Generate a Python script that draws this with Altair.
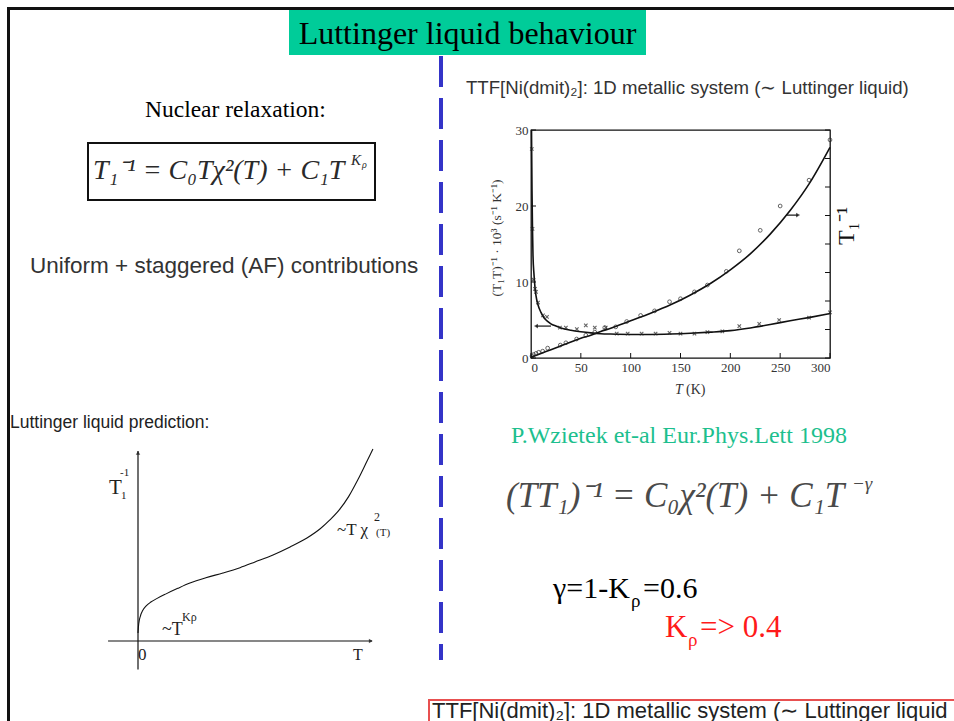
import altair as alt
import pandas as pd

SERIF = "Liberation Serif"
SANS = "Liberation Sans"

# plot-area placement (page pixels)
OX, OY = 531, 130
W, H = 299, 228

# ---------------- data ----------------
# T1^-1 (open circles, right-hand quantity)
rise_T = [1, 2.5, 5, 7.7, 11.7, 16.7, 29.4, 35, 45.8, 55, 64, 74, 85, 96, 110, 124,
          139, 150, 164, 177, 196, 209, 230, 250, 279, 300]
rise_v = [0.25, 0.45, 0.6, 0.75, 0.9, 1.3, 1.7, 2.0, 2.5, 3.0, 3.4, 4.0, 4.1, 4.8, 5.6, 6.2,
          7.4, 7.8, 8.7, 9.6, 11.4, 14.1, 16.8, 20.0, 23.4, 28.7]
# (T1 T)^-1 (crosses, left-hand quantity)
fall_T = [0.8, 1.5, 2.5, 4, 5, 7, 12, 16, 29, 35, 46, 55, 64, 75, 86, 97, 111, 125,
          139, 150, 164, 177, 192, 209, 229, 249, 279, 300]
fall_v = [27.5, 17, 10.3, 9.1, 8.7, 7.3, 5.6, 5.4, 4.0, 4.0, 3.8, 4.3, 4.0, 4.0, 3.2, 3.2, 3.2, 3.2,
          3.3, 3.2, 3.2, 3.4, 3.5, 4.2, 4.5, 5.0, 5.3, 6.0]
# fitted curves
fitR_T = [0, 10, 20, 30, 40, 50, 60, 70, 80, 90, 100, 120, 140, 160, 180, 200, 220, 240, 260, 280, 300]
fitR_v = [0.1, 0.6, 1.1, 1.6, 2.1, 2.6, 3.0, 3.5, 3.9, 4.4, 4.9, 5.9, 7.0, 8.3, 9.8, 11.6, 13.7, 16.3,
          19.4, 23.1, 27.7]
fitF_T = [0.5, 1, 1.5, 2, 3, 4, 5, 7, 10, 13, 17, 20, 25, 30, 40, 50, 60, 70, 80, 100, 120, 140,
          160, 180, 200, 220, 240, 260, 280, 300]
fitF_v = [30, 22, 17, 13.5, 11, 9.3, 8.2, 7.0, 6.0, 5.3, 4.8, 4.5, 4.2, 3.95, 3.65, 3.45, 3.3, 3.2,
          3.15, 3.1, 3.1, 3.15, 3.25, 3.4, 3.6, 3.95, 4.4, 4.9, 5.35, 5.85]
x_ticks = [0, 50, 100, 150, 200, 250, 300]
y_ticks = [0, 10, 20, 30]
yr_ticks = [0, 3.75, 7.5, 11.25, 15, 18.75, 22.5, 26.25, 30]
# arrows inside plot
arrR_T = [256, 268]
arrR_v = 18.8
arrL_T = [5, 20]
arrL_v = 4.2

# schematic "Luttinger liquid prediction" curve (arbitrary units)
sch_u = [0, 0.003, 0.01, 0.02, 0.035, 0.055, 0.08, 0.12, 0.17, 0.222, 0.29, 0.363, 0.436, 0.5,
         0.577, 0.65, 0.722, 0.78, 0.82, 0.86, 0.9, 0.94, 0.98, 1.004]
sch_v = [0.042, 0.09, 0.13, 0.16, 0.185, 0.205, 0.223, 0.248, 0.277, 0.305, 0.333, 0.358, 0.386,
         0.416, 0.453, 0.495, 0.542, 0.592, 0.637, 0.69, 0.76, 0.85, 0.95, 1.01]

# ---------------- main data plot ----------------
xenc = alt.X("T:Q", scale=alt.Scale(domain=[0, 300], nice=False, zero=False),
             axis=alt.Axis(values=x_ticks, title=None, domain=False, ticks=False, grid=False,
                           labelPadding=3, labelFont=SERIF, labelFontSize=13, labelColor="#333"))
yenc = alt.Y("R:Q", scale=alt.Scale(domain=[0, 30], nice=False, zero=False),
             axis=alt.Axis(values=y_ticks, title=None, domain=False, ticks=False, grid=False,
                           labelPadding=3, labelFont=SERIF, labelFontSize=13, labelColor="#333"))

fitR = alt.Chart(pd.DataFrame({"T": fitR_T, "R": fitR_v})).mark_line(
    color="#111", strokeWidth=1.6, interpolate="monotone").encode(x=xenc, y=yenc)
fitF = alt.Chart(pd.DataFrame({"T": fitF_T, "R": fitF_v})).mark_line(
    color="#111", strokeWidth=1.6, interpolate="monotone").encode(x=xenc, y=yenc)
ptsR = alt.Chart(pd.DataFrame({"T": rise_T, "R": rise_v})).mark_point(
    shape="circle", size=14, color="#222", strokeWidth=1, filled=False).encode(x=xenc, y=yenc)
ptsF = alt.Chart(pd.DataFrame({"T": fall_T, "R": fall_v})).mark_point(
    shape="M-1,-1L1,1M1,-1L-1,1", size=12, color="#222", strokeWidth=1.1, filled=False).encode(x=xenc, y=yenc)

arrR = alt.Chart(pd.DataFrame({"T": [arrR_T[0]], "T2": [arrR_T[1]], "R": [arrR_v]})).mark_rule(
    color="#111", strokeWidth=1.2).encode(x=xenc, x2="T2:Q", y=yenc)
arrRh = alt.Chart(pd.DataFrame({"T": [arrR_T[1]], "R": [arrR_v]})).mark_point(
    shape="triangle-right", size=22, color="#111", filled=True).encode(x=xenc, y=yenc)
arrL = alt.Chart(pd.DataFrame({"T": [arrL_T[0]], "T2": [arrL_T[1]], "R": [arrL_v]})).mark_rule(
    color="#111", strokeWidth=1.2).encode(x=xenc, x2="T2:Q", y=yenc)
arrLh = alt.Chart(pd.DataFrame({"T": [arrL_T[0]], "R": [arrL_v]})).mark_point(
    shape="triangle-left", size=22, color="#111", filled=True).encode(x=xenc, y=yenc)

tick_x = alt.Chart(pd.DataFrame({"T": x_ticks})).mark_rule(color="#111").encode(
    x=xenc, y=alt.value(H), y2=alt.value(H - 5))
tick_y = alt.Chart(pd.DataFrame({"R": y_ticks})).mark_rule(color="#111").encode(
    y=yenc, x=alt.value(0), x2=alt.value(5))
tick_yr = alt.Chart(pd.DataFrame({"R": yr_ticks})).mark_rule(color="#111").encode(
    y=yenc, x=alt.value(W), x2=alt.value(W - 5))

main = alt.layer(fitR, fitF, ptsR, ptsF, arrR, arrRh, arrL, arrLh, tick_x, tick_y, tick_yr)

# ---------------- schematic (own scales placed in page pixels) ----------------
su = alt.X("u:Q", scale=alt.Scale(domain=[0, 1], range=[138 - OX, 372 - OX], nice=False, zero=False), axis=None)
sv = alt.Y("v:Q", scale=alt.Scale(domain=[0, 1], range=[641 - OY, 451 - OY], nice=False, zero=False), axis=None)
sch_curve = alt.Chart(pd.DataFrame({"u": sch_u, "v": sch_v})).mark_line(
    color="#111", strokeWidth=1.1, interpolate="monotone").encode(x=su, y=sv)
sch_vax = alt.Chart(pd.DataFrame({"u": [0], "v": [-0.15], "v2": [1.0]})).mark_rule(
    color="#111", strokeWidth=1.2).encode(x=su, y=sv, y2="v2:Q")
sch_hax = alt.Chart(pd.DataFrame({"u": [-0.128], "u2": [1.0], "v": [0]})).mark_rule(
    color="#111", strokeWidth=1.2).encode(x=su, x2="u2:Q", y=sv)
sch_up = alt.Chart(pd.DataFrame({"u": [0], "v": [0.99]})).mark_point(
    shape="triangle-up", size=20, color="#111", filled=True).encode(x=su, y=sv)
sch_rt = alt.Chart(pd.DataFrame({"u": [0.995], "v": [0]})).mark_point(
    shape="triangle-right", size=20, color="#111", filled=True).encode(x=su, y=sv)
schem = alt.layer(sch_curve, sch_vax, sch_hax, sch_up, sch_rt)

# ---------------- slide decorations & text ----------------
one = pd.DataFrame({"k": [0]})


def txt(s, px, py, size, color="#000", font=SERIF, align="left", angle=0, style="normal",
        baseline="alphabetic"):
    return alt.Chart(one).mark_text(text=s, font=font, fontSize=size, color=color, align=align,
                                    baseline=baseline, angle=angle, fontStyle=style).encode(
        x=alt.value(px - OX), y=alt.value(py - OY))


def box(x1, y1, x2, y2, **kw):
    return alt.Chart(one).mark_rect(**kw).encode(
        x=alt.value(x1 - OX), x2=alt.value(x2 - OX), y=alt.value(y1 - OY), y2=alt.value(y2 - OY))


def hline(x1, x2, y, **kw):
    return alt.Chart(one).mark_rule(**kw).encode(
        x=alt.value(x1 - OX), x2=alt.value(x2 - OX), y=alt.value(y - OY))


def vline(x, y1, y2, **kw):
    return alt.Chart(one).mark_rule(**kw).encode(
        x=alt.value(x - OX), y=alt.value(y1 - OY), y2=alt.value(y2 - OY))


deco = [
    hline(7, 960, 8.5, color="#111", strokeWidth=3),
    vline(8.5, 7, 730, color="#111", strokeWidth=3),
    box(289, 10, 646, 55, color="#00CC99"),
    txt("Luttinger liquid behaviour", 467.5, 43.5, 32, align="center"),
    vline(441, 56, 660, color="#3434C8", strokeWidth=4, strokeDash=[31, 11]),
    txt("TTF[Ni(dmit)\u2082]:  1D metallic system (\u223c Luttinger liquid)", 466, 94, 18.6, "#333", SANS),
    txt("Nuclear relaxation:", 145, 117, 23.5),
    box(88, 143, 375, 200, fillOpacity=0, stroke="#111", strokeWidth=2),
    txt("T\u2081\u207b\u00b9 = C\u2080T\u03c7\u00b2(T) +  C\u2081T", 93, 179, 28, "#2a2a2a", style="italic"),
    txt("K", 351, 165, 15, "#2a2a2a", style="italic"),
    txt("\u03c1", 362, 168, 10, "#2a2a2a", style="italic"),
    txt("Uniform + staggered (AF) contributions", 30, 273, 22.5, "#333", SANS),
    txt("Luttinger liquid prediction:", 10, 428, 17.5, "#222", SANS),
    # schematic labels
    txt("T", 109, 494, 21, "#222"),
    txt("1", 121, 499, 11, "#222"),
    txt("-1", 120, 476, 11, "#222"),
    txt("~T \u03c7", 337, 535, 17, "#222"),
    txt("2", 374, 521, 12, "#222"),
    txt("(T)", 376, 536, 11, "#222"),
    txt("~T", 162, 635, 18, "#222"),
    txt("K\u03c1", 182, 621, 12, "#222"),
    txt("0", 138, 660, 17, "#222"),
    txt("T", 353, 660, 16, "#222"),
    # plot titles
    txt("(T\u2081T)\u207b\u00b9 \u00b7 10\u00b3  (s\u207b\u00b9 K\u207b\u00b9)", 501, 238, 13.5, "#333",
        align="center", angle=270),
    txt("T\u2081\u207b\u00b9", 854, 226, 24, "#111", align="center", angle=270),
    txt("T", 675, 394, 14, "#333", style="italic"),
    txt("(K)", 686, 394, 14, "#333"),
    # right column
    txt("P.Wzietek et-al Eur.Phys.Lett 1998", 511, 443, 24, "#1DBF8E"),
    txt("(TT\u2081)\u207b\u00b9 = C\u2080\u03c7\u00b2(T) +  C\u2081T", 506, 507, 35, "#4a4a4a", style="italic"),
    txt("\u2212\u03b3", 852, 490, 19, "#4a4a4a", style="italic"),
    txt("\u03b3=1-K", 553, 598, 30),
    txt("\u03c1", 631, 607, 19),
    txt("=0.6", 643, 598, 30),
    txt("K", 665, 637, 31, "#FF1A1A"),
    txt("\u03c1", 688, 646, 19, "#FF1A1A"),
    txt(" => 0.4", 700, 637, 31, "#FF1A1A"),
    box(429, 700, 962, 730, fillOpacity=0, stroke="#E85050", strokeWidth=2),
    txt("TTF[Ni(dmit)\u2082]:  1D metallic system (\u223c Luttinger liquid", 432, 718, 22, "#222", SANS),
]

chart = alt.layer(main, schem, *deco).resolve_scale(
    x="independent", y="independent"
).properties(
    width=W, height=H,
    autosize=alt.AutoSizeParams(type="none"),
    padding={"left": OX, "top": OY, "right": 954 - OX - W, "bottom": 721 - OY - H},
    background="white",
).configure_view(stroke="#111", strokeWidth=1.3)

chart.save("out.html", embed_options={"renderer": "svg", "actions": False})
